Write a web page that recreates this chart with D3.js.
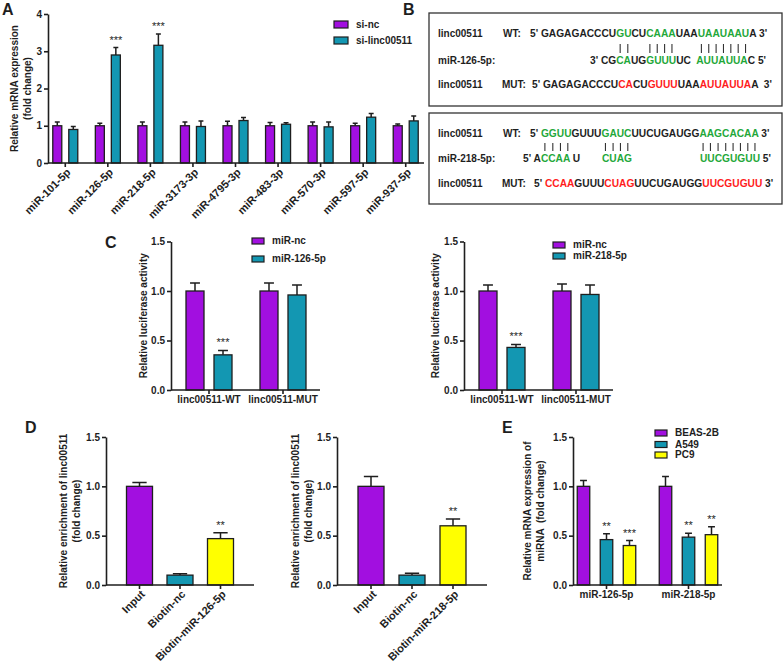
<!DOCTYPE html>
<html lang="en">
<head>
<meta charset="UTF-8">
<title>linc00511 figure</title>
<script src="https://d3js.org/d3.v7.min.js"></script>
<style>
  body { margin: 0; background: #fff; }
  svg text { font-family: "Liberation Sans", Arial, sans-serif; font-weight: bold; fill: #1e1e1e; }
</style>
</head>
<body>
<div id="fig"></div>
<script>
// ---------- data ----------
// A
const aGroups = ["miR-101-5p", "miR-126-5p", "miR-218-5p", "miR-3173-3p", "miR-4795-3p",
                 "miR-483-3p", "miR-570-3p", "miR-597-5p", "miR-937-5p"];
const aSeries = ["si-nc", "si-linc00511"];
const aNc      = [1.00, 1.00, 1.00, 1.00, 1.00, 1.00, 1.00, 1.00, 1.00];
const aNcErr   = [0.10, 0.07, 0.10, 0.10, 0.12, 0.09, 0.10, 0.07, 0.05];
const aLinc    = [0.90, 2.90, 3.16, 0.98, 1.14, 1.04, 0.97, 1.23, 1.13];
const aLincErr = [0.08, 0.20, 0.30, 0.15, 0.08, 0.04, 0.13, 0.10, 0.13];
const aStars   = [["", "", "", "", "", "", "", "", ""],
                  ["", "***", "***", "", "", "", "", "", ""]];

// C
const cGroups = ["linc00511-WT", "linc00511-MUT"];
const c1Series = ["miR-nc", "miR-126-5p"];
const c1Nc = [1.00, 1.00], c1NcErr = [0.08, 0.08];
const c1Mi = [0.355, 0.96], c1MiErr = [0.045, 0.10];
const c1Stars = [["", ""], ["***", ""]];
const c2Series = ["miR-nc", "miR-218-5p"];
const c2Nc = [1.00, 1.00], c2NcErr = [0.06, 0.07];
const c2Mi = [0.43, 0.965], c2MiErr = [0.03, 0.095];
const c2Stars = [["", ""], ["***", ""]];

// D
const d1Groups = ["Input", "Biotin-nc", "Biotin-miR-126-5p"];
const d1Vals = [1.00, 0.10, 0.47], d1Errs = [0.04, 0.015, 0.06];
const d1Stars = ["", "", "**"];
const d2Groups = ["Input", "Biotin-nc", "Biotin-miR-218-5p"];
const d2Vals = [1.00, 0.10, 0.60], d2Errs = [0.10, 0.02, 0.07];
const d2Stars = ["", "", "**"];

// E
const eGroups = ["miR-126-5p", "miR-218-5p"];
const eSeries = ["BEAS-2B", "A549", "PC9"];
const eBeas = [1.00, 1.00], eBeasErr = [0.06, 0.10];
const eA549 = [0.46, 0.485], eA549Err = [0.06, 0.04];
const ePc9  = [0.40, 0.51], ePc9Err = [0.05, 0.08];
const eStars = [["", ""], ["**", "**"], ["***", "**"]];

const yTicks15 = [0, 0.5, 1.0, 1.5];
const aTicks = [0, 1, 2, 3, 4];

const PURPLE = "#a20fe0", TEAL = "#1397b2", YELLOW = "#ffff00";
const INK = "#1e1e1e";

// ---------- drawing ----------
const svg = d3.select("#fig").append("svg").attr("width", 784).attr("height", 662);

function barPanel(o) {
  const g = svg.append("g");
  const y = d3.scaleLinear().domain(o.yDomain).range(o.yRange);
  const x0 = d3.scaleBand().domain(o.groups).range(o.xRange);
  const n = o.series.length;
  const span = n * o.barStep - (o.barStep - o.barW);
  const x1 = d3.scaleBand().domain(o.series).range([-span / 2, span / 2])
    .paddingInner(n > 1 ? (o.barStep - o.barW) / o.barStep : 0);

  const rows = [];
  o.groups.forEach((grp, i) => {
    o.series.forEach((s, j) => {
      const cx = x0(grp) + x0.bandwidth() / 2 + x1(s) + x1.bandwidth() / 2;
      rows.push({ cx, v: o.values[j][i], e: o.errors[j][i],
                  color: o.colors[j](i), star: o.stars[j][i] });
    });
  });

  // error bars (upper only)
  const cap = o.barW * 0.55;
  g.selectAll("path.err").data(rows).join("path")
    .attr("d", d => `M${d.cx},${y(d.v)}V${y(d.v + d.e)}M${d.cx - cap / 2},${y(d.v + d.e)}H${d.cx + cap / 2}`)
    .attr("stroke", INK).attr("stroke-width", 1.5).attr("fill", "none");

  g.selectAll("rect").data(rows).join("rect")
    .attr("x", d => d.cx - x1.bandwidth() / 2)
    .attr("y", d => y(d.v))
    .attr("width", x1.bandwidth())
    .attr("height", d => y(0) - y(d.v))
    .attr("fill", d => d.color)
    .attr("stroke", INK).attr("stroke-width", 1.3);

  g.selectAll("text.star").data(rows.filter(d => d.star)).join("text")
    .attr("x", d => d.cx).attr("y", d => y(d.v + d.e) - 4)
    .attr("text-anchor", "middle")
    .style("font-size", "11px").style("font-weight", "normal")
    .text(d => d.star);

  // y axis
  const ya = g.append("g").attr("transform", `translate(${o.axisX0},0)`)
    .call(d3.axisLeft(y).tickValues(o.yTicks).tickFormat(o.yFmt)
      .tickSize(4).tickSizeOuter(0).tickPadding(2));
  // x axis
  const xa = g.append("g").attr("transform", `translate(0,${y(0)})`)
    .call(d3.axisBottom(x0).tickSize(4).tickSizeOuter(0).tickPadding(3));
  xa.select(".domain").remove();
  xa.append("line").attr("x1", o.axisX0).attr("x2", o.axisX1)
    .attr("stroke", INK).attr("stroke-width", 1.6);

  [ya, xa].forEach(a => {
    a.selectAll("path, line").attr("stroke", INK).attr("stroke-width", 1.6);
    a.selectAll("text").attr("fill", INK).style("font-size", "10px")
      .style("font-family", '"Liberation Sans", Arial, sans-serif').style("font-weight", "bold");
  });
  if (o.rotate) {
    xa.selectAll(".tick text")
      .attr("x", 0).attr("y", 0).attr("dy", null)
      .attr("text-anchor", "end")
      .style("font-size", "11px")
      .attr("transform", "translate(6,10) rotate(-45)");
  } else {
    xa.selectAll(".tick text").attr("dy", null).attr("y", 13);
  }

  // y title
  const cy = (o.yRange[0] + o.yRange[1]) / 2;
  o.yTitle.forEach((t, k) => {
    svg.append("text")
      .attr("transform", `translate(${o.yTitleX[k]},${cy}) rotate(-90)`)
      .attr("text-anchor", "middle")
      .style("font-size", "10px")
      .style("white-space", "pre")
      .text(t);
  });
}

function legend(x, ys, labels, colors, w, h) {
  labels.forEach((lab, i) => {
    svg.append("rect").attr("x", x).attr("y", ys[i]).attr("width", w).attr("height", h)
      .attr("fill", colors[i]).attr("stroke", INK).attr("stroke-width", 1.2);
    svg.append("text").attr("x", x + w + 8).attr("y", ys[i] + h)
      .style("font-size", "10px").text(lab);
  });
}

function panelLetter(t, x, y) {
  svg.append("text").attr("x", x).attr("y", y).style("font-size", "16px").text(t);
}

// Panel A
barPanel({
  groups: aGroups, series: aSeries,
  values: [aNc, aLinc], errors: [aNcErr, aLincErr], stars: aStars,
  colors: [() => PURPLE, () => TEAL],
  yDomain: [0, 4], yRange: [163, 14], yTicks: aTicks, yFmt: d3.format("d"),
  xRange: [44, 427], barW: 9, barStep: 16, axisX0: 48, axisX1: 424, rotate: true,
  yTitle: ["Relative mRNA expression", "(fold change)"], yTitleX: [18, 31]
});
legend(334, [21, 37], aSeries, [PURPLE, TEAL], 14, 7);
panelLetter("A", 2, 15);

// Panel C (left / right)
barPanel({
  groups: cGroups, series: c1Series,
  values: [c1Nc, c1Mi], errors: [c1NcErr, c1MiErr], stars: c1Stars,
  colors: [() => PURPLE, () => TEAL],
  yDomain: [0, 1.5], yRange: [390, 241.5], yTicks: yTicks15, yFmt: d3.format(".1f"),
  xRange: [172, 320], barW: 18, barStep: 28, axisX0: 171, axisX1: 320, rotate: false,
  yTitle: ["Relative luciferase activity"], yTitleX: [147]
});
legend(252, [238, 256], c1Series, [PURPLE, TEAL], 12, 6);
barPanel({
  groups: cGroups, series: c2Series,
  values: [c2Nc, c2Mi], errors: [c2NcErr, c2MiErr], stars: c2Stars,
  colors: [() => PURPLE, () => TEAL],
  yDomain: [0, 1.5], yRange: [390, 241.5], yTicks: yTicks15, yFmt: d3.format(".1f"),
  xRange: [465, 613], barW: 18, barStep: 28, axisX0: 464, axisX1: 613, rotate: false,
  yTitle: ["Relative luciferase activity"], yTitleX: [439]
});
legend(553, [242, 253], c2Series, [PURPLE, TEAL], 12, 6);
panelLetter("C", 105, 248);

// Panel D
const dColors = [PURPLE, TEAL, YELLOW];
barPanel({
  groups: d1Groups, series: ["v"],
  values: [d1Vals], errors: [d1Errs], stars: [d1Stars],
  colors: [i => dColors[i]],
  yDomain: [0, 1.5], yRange: [585, 437], yTicks: yTicks15, yFmt: d3.format(".1f"),
  xRange: [119.25, 240.75], barW: 26, barStep: 26, axisX0: 106, axisX1: 254, rotate: true,
  yTitle: ["Relative enrichment of linc00511", "(fold change)"], yTitleX: [67, 80]
});
barPanel({
  groups: d2Groups, series: ["v"],
  values: [d2Vals], errors: [d2Errs], stars: [d2Stars],
  colors: [i => dColors[i]],
  yDomain: [0, 1.5], yRange: [585, 437], yTicks: yTicks15, yFmt: d3.format(".1f"),
  xRange: [350.5, 473.5], barW: 26, barStep: 26, axisX0: 337, axisX1: 487, rotate: true,
  yTitle: ["Relative enrichment of linc00511", "(fold change)"], yTitleX: [299, 312]
});
panelLetter("D", 25, 433);

// Panel E
barPanel({
  groups: eGroups, series: eSeries,
  values: [eBeas, eA549, ePc9], errors: [eBeasErr, eA549Err, ePc9Err], stars: eStars,
  colors: [() => PURPLE, () => TEAL, () => YELLOW],
  yDomain: [0, 1.5], yRange: [585, 437], yTicks: yTicks15, yFmt: d3.format(".1f"),
  xRange: [565.5, 729.5], barW: 12.5, barStep: 23, axisX0: 573, axisX1: 722, rotate: false,
  yTitle: ["Relative mRNA expression of", "miRNA  (fold change)"], yTitleX: [531, 544]
});
legend(655, [430, 441.5, 452], eSeries, [PURPLE, TEAL, YELLOW], 12, 6);
panelLetter("E", 502, 433);

// Panel B: sequence boxes
panelLetter("B", 403, 15);
const SEQ = { k: "#1e1e1e", g: "#1fa83a", r: "#ff1c1c" };

const wt126  = [["5' GAGAGACCCU", "k"], ["GU", "g"], ["CU", "k"], ["CAAA", "g"], ["UAA", "k"], ["UAAUAAU", "g"], ["A 3'", "k"]];
const mi126  = [["3' CG", "k"], ["CA", "g"], ["UG", "k"], ["GUUU", "g"], ["UC  ", "k"], ["AUUAUUA", "g"], ["C 5'", "k"]];
const mut126 = [["5' GAGAGACCCU", "k"], ["CA", "r"], ["CU", "k"], ["GUUU", "r"], ["UAA", "k"], ["AUUAUUA", "r"], ["A  3'", "k"]];
const wt218  = [["5' ", "k"], ["GGUU", "g"], ["GUUU", "k"], ["GAUC", "g"], ["UUCUGAUGG", "k"], ["AAGCACAA", "g"], [" 3'", "k"]];
const mut218 = [["5' ", "k"], ["CCAA", "r"], ["GUUU", "k"], ["CUAG", "r"], ["UUCUGAUGG", "k"], ["UUCGUGUU", "r"], [" 3'", "k"]];

const boxes = [
  { x: 429, y: 13, w: 353, h: 93 },
  { x: 429, y: 113, w: 353, h: 91 }
];
svg.selectAll("rect.box").data(boxes).join("rect")
  .attr("x", d => d.x).attr("y", d => d.y).attr("width", d => d.w).attr("height", d => d.h)
  .attr("fill", "none").attr("stroke", "#333").attr("stroke-width", 1.3);

const SEQ_FONT = "10.2px";
function seqText(x, y, parts) {
  const t = svg.append("text").attr("x", x).attr("y", y)
    .style("font-size", SEQ_FONT).style("white-space", "pre");
  parts.forEach(([s, c]) => t.append("tspan").text(s).style("fill", SEQ[c]));
  return t;
}
function label(x, y, s) {
  svg.append("text").attr("x", x).attr("y", y).style("font-size", "10px").text(s);
}
function pipes(textSel, parts, y0, y1) {
  const node = textSel.node();
  let idx = 0;
  parts.forEach(([s, c]) => {
    for (let k = 0; k < s.length; k++, idx++) {
      if (c !== "g") continue;
      const a = node.getStartPositionOfChar(idx).x;
      const b = node.getEndPositionOfChar(idx).x;
      const xm = (a + b) / 2;
      svg.append("line").attr("x1", xm).attr("x2", xm).attr("y1", y0).attr("y2", y1)
        .attr("stroke", "#333").attr("stroke-width", 1.1);
    }
  });
}

// box 1
label(438, 37, "linc00511");
label(503, 37, "WT:");
const t1 = seqText(530, 37, wt126);
pipes(t1, wt126, 44, 53);
label(438, 64, "miR-126-5p:");
seqText(590, 64, mi126);
label(438, 88, "linc00511");
label(502, 88, "MUT:");
seqText(532, 88, mut126);

// box 2
label(438, 137, "linc00511");
label(503, 137, "WT:");
const t2 = seqText(530, 137, wt218);
pipes(t2, wt218, 143, 151);
label(438, 162, "miR-218-5p:");
const m218 = svg.append("text").attr("y", 162).style("font-size", SEQ_FONT).style("white-space", "pre");
m218.append("tspan").attr("x", 523).text("5' A").style("fill", SEQ.k);
m218.append("tspan").text("CCAA").style("fill", SEQ.g);
m218.append("tspan").text(" U").style("fill", SEQ.k);
m218.append("tspan").attr("x", 602).text("CUAG").style("fill", SEQ.g);
m218.append("tspan").attr("x", 700).text("UUCGUGUU").style("fill", SEQ.g);
m218.append("tspan").text(" 5'").style("fill", SEQ.k);
label(438, 187, "linc00511");
label(502, 187, "MUT:");
seqText(534, 187, mut218);
</script>
</body>
</html>
